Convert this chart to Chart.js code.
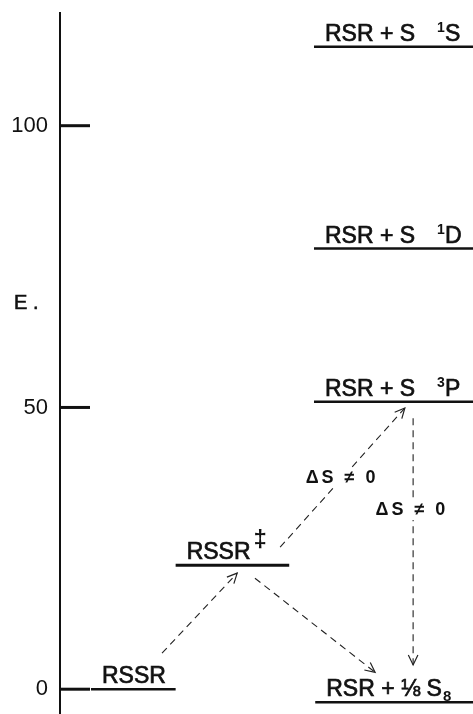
<!DOCTYPE html>
<html>
<head>
<meta charset="utf-8">
<script src="https://cdn.jsdelivr.net/npm/chart.js@4.4.0/dist/chart.umd.min.js"></script>
<style>
html, body { margin: 0; padding: 0; background: #fff; }
#wrap { width: 473px; height: 714px; position: relative; }
</style>
</head>
<body>
<div id="wrap"><canvas id="diagram"></canvas></div>
<script>
// energy levels (reaction coordinate x, energy E)
const levelMain = ['RSSR', 'RSSR', 'RSR + S', 'RSR + S', 'RSR + S', 'RSR + \u215B S'];
const levelSup = ['', '\u2021', '3', '1', '1', ''];
const levelTail = ['', '', 'P', 'D', 'S', ''];
const levelSub = ['', '', '', '', '', '8'];
const levelEnergy = [0, 22, 51, 78.2, 114, -2.3];
const levelStart = [0.75, 2.8, 6.15, 6.15, 6.15, 6.18];
const levelEnd = [2.8, 5.55, 10, 10, 10, 10];

// dashed transitions
const arrowFrom = [[2.47, 6.4], [5.33, 25.2], [4.72, 19.7], [8.55, 48.1]];
const arrowTo = [[4.29, 20.6], [8.35, 49.9], [7.63, 3.0], [8.55, 4.3]];

const spinLabel = '\u0394S \u2260 0';
const spinLabelAt = [[6.83, 37.5], [8.52, 31.8]];

const yTicks = [0, 50, 100];
const yTitle = 'E .';
const yTitleAt = 68.5;

const FONT = '"Liberation Sans", Arial, sans-serif';

const datasets = [];
levelEnergy.forEach((e, i) => {
    datasets.push({
        data: [{ x: levelStart[i], y: e }, { x: levelEnd[i], y: e }],
        borderColor: '#111',
        borderWidth: i === 1 ? 3 : 2.5,
        pointRadius: 0,
        clip: false
    });
});
arrowFrom.forEach((f, i) => {
    datasets.push({
        data: [{ x: f[0], y: f[1] }, { x: arrowTo[i][0], y: arrowTo[i][1] }],
        borderColor: '#222',
        borderWidth: 1.1,
        borderDash: [7, 5],
        pointRadius: 0,
        arrow: true
    });
});

// text with a thin outline so the lettering looks as heavy as the original
function heavyText(ctx, str, x, y) {
    ctx.fillText(str, x, y);
    ctx.strokeText(str, x, y);
}

const diagramPlugin = {
    id: 'diagram',
    afterDatasetsDraw(chart) {
        const ctx = chart.ctx;
        const xs = chart.scales.x, ys = chart.scales.y;
        ctx.save();

        // arrow heads
        ctx.strokeStyle = '#222';
        ctx.lineWidth = 1.2;
        ctx.setLineDash([]);
        chart.data.datasets.forEach((ds, di) => {
            if (!ds.arrow) return;
            const pts = chart.getDatasetMeta(di).data;
            const a = pts[0], b = pts[1];
            const ang = Math.atan2(b.y - a.y, b.x - a.x);
            const len = 11;
            ctx.beginPath();
            ctx.moveTo(b.x - len * Math.cos(ang - 0.45), b.y - len * Math.sin(ang - 0.45));
            ctx.lineTo(b.x, b.y);
            ctx.lineTo(b.x - len * Math.cos(ang + 0.45), b.y - len * Math.sin(ang + 0.45));
            ctx.stroke();
        });

        // spin labels
        ctx.font = 'bold 18px ' + FONT;
        ctx.letterSpacing = '3px';
        ctx.textBaseline = 'middle';
        ctx.textAlign = 'center';
        spinLabelAt.forEach((p) => {
            const cx = xs.getPixelForValue(p[0]);
            const cy = ys.getPixelForValue(p[1]);
            const w = ctx.measureText(spinLabel).width;
            ctx.fillStyle = '#fff';
            ctx.fillRect(cx - w / 2 - 3, cy - 10, w + 6, 20);
            ctx.fillStyle = '#111';
            ctx.fillText(spinLabel, cx, cy);
        });
        ctx.letterSpacing = '0px';

        // level labels
        ctx.textAlign = 'left';
        ctx.textBaseline = 'alphabetic';
        ctx.fillStyle = '#111';
        ctx.strokeStyle = '#111';
        ctx.lineWidth = 0.7;
        levelEnergy.forEach((e, i) => {
            let x = xs.getPixelForValue(levelStart[i]) + 11;
            const base = ys.getPixelForValue(e) - 6;
            ctx.font = '23px ' + FONT;
            heavyText(ctx, levelMain[i], x, base);
            x += ctx.measureText(levelMain[i]).width;
            if (levelSup[i]) {
                if (levelSup[i] === '\u2021') {
                    ctx.font = 'bold 24px ' + FONT;
                    x += 3;
                    ctx.fillText(levelSup[i], x, base - 12);
                } else {
                    ctx.font = 'bold 14px ' + FONT;
                    x += 22;
                    ctx.fillText(levelSup[i], x, base - 9);
                }
                x += ctx.measureText(levelSup[i]).width;
            }
            if (levelTail[i]) {
                ctx.font = '23px ' + FONT;
                heavyText(ctx, levelTail[i], x, base);
            }
            if (levelSub[i]) {
                ctx.font = 'bold 15px ' + FONT;
                ctx.fillText(levelSub[i], x + 1, base + 5);
            }
        });

        // inward tick marks
        ctx.lineWidth = 3;
        yTicks.forEach((v) => {
            const y = ys.getPixelForValue(v);
            ctx.beginPath();
            ctx.moveTo(chart.chartArea.left, y);
            ctx.lineTo(chart.chartArea.left + 30, y);
            ctx.stroke();
        });

        // axis title
        ctx.font = '20px ' + FONT;
        ctx.lineWidth = 0.6;
        ctx.textBaseline = 'middle';
        heavyText(ctx, yTitle, 14, ys.getPixelForValue(yTitleAt));
        ctx.restore();
    }
};

new Chart(document.getElementById('diagram'), {
    type: 'line',
    data: { datasets },
    options: {
        responsive: true,
        maintainAspectRatio: false,
        animation: false,
        layout: { padding: { top: 13, right: 0, bottom: 0, left: 0 } },
        plugins: { legend: { display: false }, tooltip: { enabled: false } },
        scales: {
            x: { type: 'linear', min: 0, max: 10, display: false },
            y: {
                type: 'linear',
                min: -4.4,
                max: 120,
                afterBuildTicks: (scale) => { scale.ticks = yTicks.map((v) => ({ value: v })); },
                afterFit: (scale) => {
                    scale.width = 60;
                    scale.paddingTop = 0;
                    scale.paddingBottom = 0;
                },
                grid: { display: false, drawTicks: false },
                border: { display: true, color: '#111', width: 2 },
                ticks: { color: '#111', padding: 12, font: { family: FONT, size: 22 } }
            }
        }
    },
    plugins: [diagramPlugin]
});
</script>
</body>
</html>
